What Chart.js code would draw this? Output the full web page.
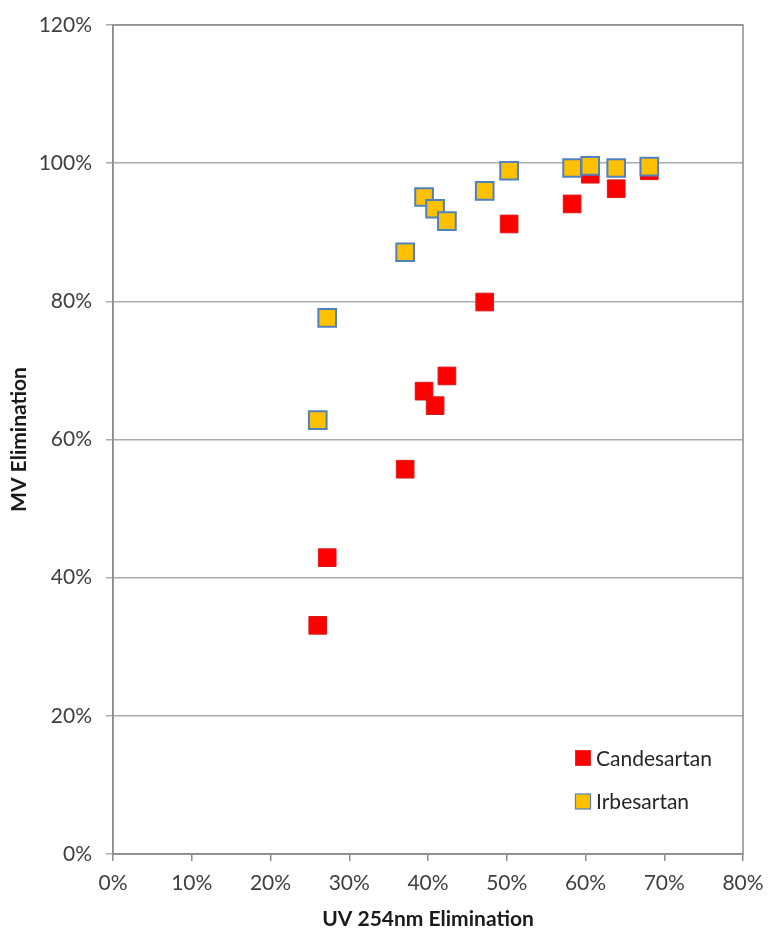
<!DOCTYPE html>
<html>
<head>
<meta charset="utf-8">
<script src="https://cdn.jsdelivr.net/npm/chart.js@4/dist/chart.umd.min.js"></script>
<style>
  html, body { margin: 0; padding: 0; background: #fff; }
  #wrap { width: 768px; height: 930px; position: relative; }
</style>
</head>
<body>
<div id="wrap"><canvas id="c" width="768" height="930"></canvas></div>
<script>
// UV 254nm elimination (%) for each sample, shared by both compounds
const uvElimination = [26.0, 27.2, 37.1, 39.5, 40.9, 42.4, 47.2, 50.3, 58.3, 60.6, 63.9, 68.1];
// MV elimination (%) per compound
const candesartan = [33.1, 42.9, 55.7, 67.0, 64.9, 69.2, 79.9, 91.2, 94.1, 98.4, 96.3, 98.9];
const irbesartan  = [62.8, 77.6, 87.1, 95.1, 93.4, 91.6, 96.0, 98.9, 99.3, 99.6, 99.3, 99.5];
const seriesNames = ['Candesartan', 'Irbesartan'];
const xTicks = [0, 10, 20, 30, 40, 50, 60, 70, 80];
const yTicks = [0, 20, 40, 60, 80, 100, 120];

const FONT = 'Lato, "Open Sans", "Liberation Sans", sans-serif';
const toPoints = ys => ys.map((y, i) => ({ x: uvElimination[i], y }));

// Frame around the plot area and a legend placed inside it, lower right
const framePlugin = {
  id: 'frame',
  afterDatasetsDraw(chart) {
    const { ctx, chartArea: a } = chart;
    ctx.save();
    ctx.strokeStyle = '#8c8c8c';
    ctx.lineWidth = 1.5;
    ctx.strokeRect(a.left, a.top, a.right - a.left, a.bottom - a.top);
    // legend
    const entries = chart.data.datasets;
    const x0 = a.left + 470, y0 = a.top + 733, gap = 43.5;
    ctx.font = '21px ' + FONT;
    ctx.textBaseline = 'middle';
    entries.forEach((ds, i) => {
      const y = y0 + i * gap;
      ctx.fillStyle = ds.backgroundColor;
      ctx.fillRect(x0 - 7.5, y - 7.5, 15, 15);
      ctx.strokeStyle = ds.borderColor;
      ctx.lineWidth = ds.borderWidth > 1 ? 1.2 : 0.8;
      ctx.strokeRect(x0 - 7.5, y - 7.5, 15, 15);
      ctx.fillStyle = '#262626';
      ctx.fillText(ds.label, x0 + 13, y + 1);
    });
    ctx.restore();
  }
};

new Chart(document.getElementById('c'), {
  type: 'scatter',
  data: {
    datasets: [
      {
        label: seriesNames[0],
        data: toPoints(candesartan),
        backgroundColor: '#ff0000',
        borderColor: '#d91a1a',
        borderWidth: 1,
        pointStyle: 'rect',
        pointRadius: 12.5,
        pointHoverRadius: 12.5,
        order: 2
      },
      {
        label: seriesNames[1],
        data: toPoints(irbesartan),
        backgroundColor: '#ffc000',
        borderColor: '#4f81bd',
        borderWidth: 2,
        pointStyle: 'rect',
        pointRadius: 12.5,
        pointHoverRadius: 12.5,
        order: 1
      }
    ]
  },
  options: {
    responsive: false,
    animation: false,
    devicePixelRatio: 1,
    layout: { padding: { top: 25, right: 25, left: 0, bottom: 0 } },
    plugins: {
      legend: { display: false },
      tooltip: { enabled: false }
    },
    scales: {
      x: {
        type: 'linear',
        min: 0, max: 80,
        afterBuildTicks: s => { s.ticks = xTicks.map(v => ({ value: v })); },
        ticks: {
          callback: v => v + '%',
          color: '#404040',
          font: { family: FONT, size: 21 },
          padding: 10,
          maxRotation: 0
        },
        grid: { drawOnChartArea: false, drawTicks: true, tickLength: 7, color: '#8c8c8c', lineWidth: 1.5 },
        border: { color: '#8c8c8c', width: 1.5 },
        title: {
          display: true,
          text: 'UV 254nm Elimination',
          color: '#1a1a1a',
          font: { family: FONT, size: 21, weight: 'bold' },
          padding: { top: 0, bottom: -2 }
        },
        afterFit: s => { s.height = 76; s.paddingLeft = 0; s.paddingRight = 0; }
      },
      y: {
        type: 'linear',
        min: 0, max: 120,
        afterBuildTicks: s => { s.ticks = yTicks.map(v => ({ value: v })); },
        ticks: {
          callback: v => v + '%',
          color: '#404040',
          font: { family: FONT, size: 21 },
          padding: 14
        },
        grid: { color: '#ababab', lineWidth: 1.5, tickLength: 7 },
        border: { color: '#8c8c8c', width: 1.5 },
        title: {
          display: true,
          text: 'MV Elimination',
          color: '#1a1a1a',
          font: { family: FONT, size: 21, weight: 'bold' },
          padding: { top: 7, bottom: 0 }
        },
        afterFit: s => { s.width = 113; s.paddingTop = 0; s.paddingBottom = 0; }
      }
    }
  },
  plugins: [framePlugin]
});
</script>
</body>
</html>
